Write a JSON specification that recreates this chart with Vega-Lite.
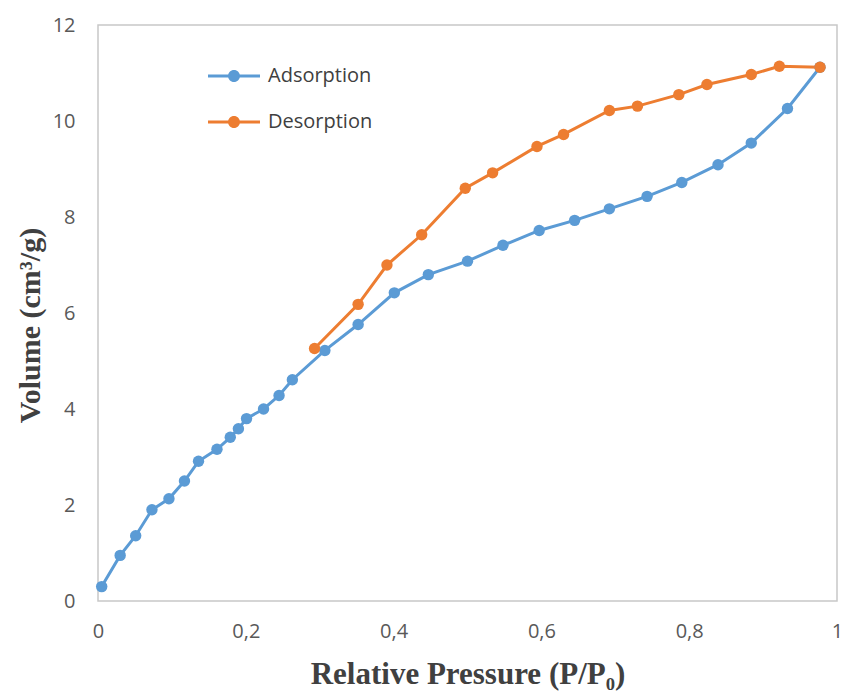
{
  "$schema": "https://vega.github.io/schema/vega-lite/v6.json",
  "width": 739,
  "height": 576,
  "autosize": {"type": "none"},
  "padding": {"left": 98, "top": 25, "right": 5, "bottom": 90},
  "background": "white",
  "config": {
    "view": {"stroke": "#c8c8c8", "strokeWidth": 1.5},
    "axis": {"grid": false, "domain": false, "ticks": false}
  },
  "resolve": {"legend": {"color": "independent"}},
  "data": {
    "values": [
      {"p": 0.005, "v": 0.30, "s": "Adsorption"},
      {"p": 0.030, "v": 0.95, "s": "Adsorption"},
      {"p": 0.051, "v": 1.36, "s": "Adsorption"},
      {"p": 0.073, "v": 1.90, "s": "Adsorption"},
      {"p": 0.096, "v": 2.13, "s": "Adsorption"},
      {"p": 0.117, "v": 2.50, "s": "Adsorption"},
      {"p": 0.136, "v": 2.91, "s": "Adsorption"},
      {"p": 0.161, "v": 3.16, "s": "Adsorption"},
      {"p": 0.179, "v": 3.41, "s": "Adsorption"},
      {"p": 0.190, "v": 3.59, "s": "Adsorption"},
      {"p": 0.201, "v": 3.80, "s": "Adsorption"},
      {"p": 0.224, "v": 4.00, "s": "Adsorption"},
      {"p": 0.245, "v": 4.28, "s": "Adsorption"},
      {"p": 0.263, "v": 4.61, "s": "Adsorption"},
      {"p": 0.307, "v": 5.22, "s": "Adsorption"},
      {"p": 0.352, "v": 5.76, "s": "Adsorption"},
      {"p": 0.401, "v": 6.42, "s": "Adsorption"},
      {"p": 0.447, "v": 6.80, "s": "Adsorption"},
      {"p": 0.500, "v": 7.08, "s": "Adsorption"},
      {"p": 0.548, "v": 7.41, "s": "Adsorption"},
      {"p": 0.597, "v": 7.72, "s": "Adsorption"},
      {"p": 0.645, "v": 7.93, "s": "Adsorption"},
      {"p": 0.692, "v": 8.17, "s": "Adsorption"},
      {"p": 0.743, "v": 8.43, "s": "Adsorption"},
      {"p": 0.790, "v": 8.72, "s": "Adsorption"},
      {"p": 0.839, "v": 9.09, "s": "Adsorption"},
      {"p": 0.884, "v": 9.54, "s": "Adsorption"},
      {"p": 0.933, "v": 10.26, "s": "Adsorption"},
      {"p": 0.977, "v": 11.12, "s": "Adsorption"},
      {"p": 0.293, "v": 5.26, "s": "Desorption"},
      {"p": 0.352, "v": 6.18, "s": "Desorption"},
      {"p": 0.391, "v": 7.00, "s": "Desorption"},
      {"p": 0.438, "v": 7.63, "s": "Desorption"},
      {"p": 0.497, "v": 8.60, "s": "Desorption"},
      {"p": 0.534, "v": 8.92, "s": "Desorption"},
      {"p": 0.594, "v": 9.47, "s": "Desorption"},
      {"p": 0.630, "v": 9.72, "s": "Desorption"},
      {"p": 0.692, "v": 10.22, "s": "Desorption"},
      {"p": 0.730, "v": 10.31, "s": "Desorption"},
      {"p": 0.786, "v": 10.55, "s": "Desorption"},
      {"p": 0.824, "v": 10.76, "s": "Desorption"},
      {"p": 0.884, "v": 10.97, "s": "Desorption"},
      {"p": 0.922, "v": 11.14, "s": "Desorption"},
      {"p": 0.977, "v": 11.12, "s": "Desorption"}
    ]
  },
  "encoding": {
    "x": {
      "field": "p",
      "type": "quantitative",
      "scale": {"domain": [0, 1], "nice": false, "zero": false},
      "axis": {
        "values": [0, 0.2, 0.4, 0.6, 0.8, 1],
        "labelExpr": "replace(format(datum.value, '~g'), '.', ',')",
        "labelFont": "Open Sans",
        "labelFontSize": 20,
        "labelColor": "#595959",
        "labelBaseline": "alphabetic",
        "labelPadding": 36,
        "labelFlush": false,
        "title": "Relative Pressure (P/P₀)",
        "titleFont": "Liberation Serif",
        "titleFontSize": 31,
        "titleFontWeight": "bold",
        "titleColor": "#404040",
        "titleBaseline": "alphabetic",
        "titleY": 82
      }
    },
    "y": {
      "field": "v",
      "type": "quantitative",
      "scale": {"domain": [0, 12], "nice": false},
      "axis": {
        "values": [0, 2, 4, 6, 8, 10, 12],
        "labelFont": "Open Sans",
        "labelFontSize": 20,
        "labelColor": "#595959",
        "labelPadding": 23,
        "labelFlush": false,
        "title": "Volume  (cm³/g)",
        "titleFont": "Liberation Serif",
        "titleFontSize": 30,
        "titleFontWeight": "bold",
        "titleColor": "#404040",
        "titleAngle": -90,
        "titleBaseline": "alphabetic",
        "titleAlign": "center",
        "titleX": -59,
        "titleY": 300
      }
    }
  },
  "layer": [
    {
      "mark": {"type": "line", "strokeWidth": 3},
      "encoding": {
        "color": {
          "field": "s",
          "type": "nominal",
          "scale": {"domain": ["Adsorption", "Desorption"], "range": ["#5b9bd5", "#ed7d31"]},
          "legend": null
        }
      }
    },
    {
      "mark": {"type": "point", "filled": true, "size": 130, "opacity": 1},
      "encoding": {
        "color": {
          "field": "s",
          "type": "nominal",
          "scale": {"domain": ["Adsorption", "Desorption"], "range": ["#5b9bd5", "#ed7d31"]},
          "legend": {
            "title": null,
            "orient": "none",
            "legendX": 116,
            "legendY": 31,
            "padding": 0,
            "symbolType": "M-1.3,-0.075H1.3V0.075H-1.3Z M0.3,0A0.3,0.3,0,1,1,-0.3,0A0.3,0.3,0,1,1,0.3,0Z",
            "symbolSize": 1600,
            "symbolStrokeWidth": 0,
            "symbolOpacity": 1,
            "labelOffset": 14,
            "rowPadding": 16,
            "labelFont": "Open Sans",
            "labelFontSize": 20,
            "labelColor": "#404040"
          }
        }
      }
    }
  ]
}
